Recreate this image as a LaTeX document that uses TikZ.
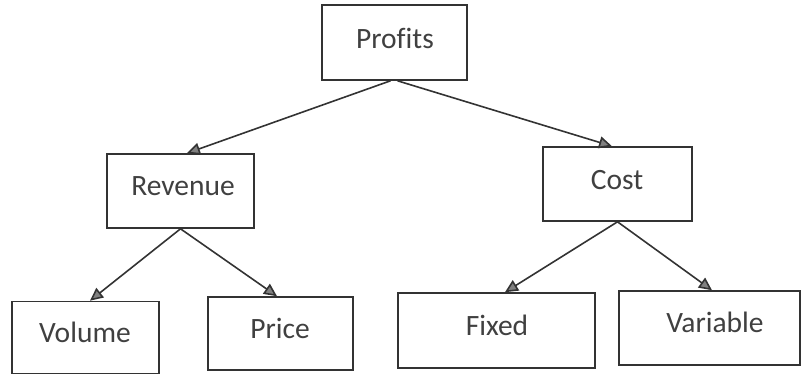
\documentclass[tikz,border=0pt]{standalone}
\usepackage{fontspec}
\setmainfont{Carlito}[Ligatures=NoCommon]
\usetikzlibrary{arrows.meta}
\begin{document}
\begin{tikzpicture}[x=1pt,y=-1pt,
  box/.style={draw=black!80, line width=1.6pt, minimum width=#1, inner sep=0pt},
  lbl/.style={text=black!75, font=\fontsize{29.5}{33}\selectfont, inner sep=0pt},
  link/.style={draw=black!80, line width=1.6pt,
    -{Triangle[length=13pt,width=12pt,fill=black!50]}}]
  \useasboundingbox (0,0) rectangle (804,373);
  % boxes
  \node[box=145pt, minimum height=75pt] (profits) at (394.5,42.5) {};
  \node[box=147pt, minimum height=74pt] (revenue) at (180.5,191) {};
  \node[box=149pt, minimum height=74pt] (cost) at (617.5,184) {};
  \node[box=147pt, minimum height=72pt] (volume) at (85.5,337.5) {};
  \node[box=145pt, minimum height=73pt] (price) at (280.5,333.5) {};
  \node[box=197pt, minimum height=75pt] (fixed) at (496.5,330.5) {};
  \node[box=181pt, minimum height=74pt] (variable) at (709.5,328) {};
  % labels
  \node[lbl] (t-profits) at (395,38) {Profits};
  \node[lbl] (t-revenue) at (183,186) {Revenue};
  \node[lbl] (t-cost) at (617,180) {Cost};
  \node[lbl] (t-volume) at (85,332) {Volume};
  \node[lbl] (t-price) at (280,328) {Price};
  \node[lbl] (t-fixed) at (497,325) {Fixed};
  \node[lbl] (t-variable) at (715,322) {Variable};
  % connectors
  \draw[link] ([xshift=-4pt]profits.south) -- ([xshift=6.5pt]revenue.north);
  \draw[link] ([xshift=3pt]profits.south) -- ([xshift=-5.5pt]cost.north);
  \draw[link] (revenue.south) -- ([xshift=4.5pt]volume.north);
  \draw[link] (revenue.south) -- ([xshift=-3.5pt]price.north);
  \draw[link] (cost.south) -- ([xshift=8.5pt]fixed.north);
  \draw[link] (cost.south) -- ([xshift=2.5pt]variable.north);
\end{tikzpicture}
\end{document}
